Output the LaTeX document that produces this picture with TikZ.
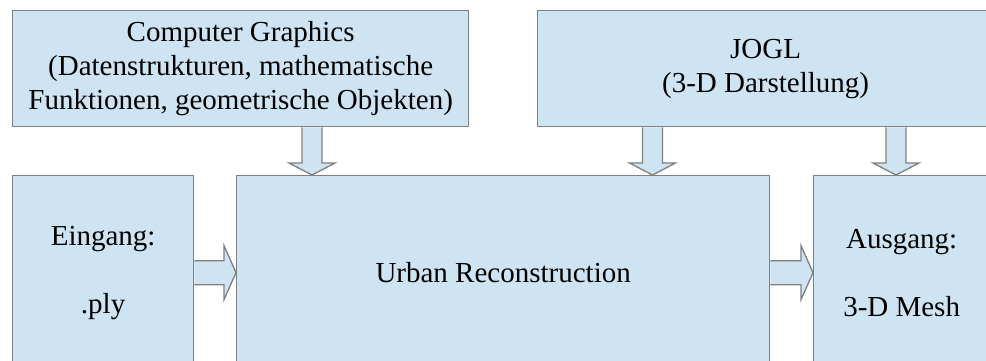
\documentclass[tikz,border=0pt]{standalone}
\usepackage{fontspec}
\setmainfont{Liberation Serif}
\usetikzlibrary{calc}
\definecolor{boxblue}{RGB}{207,228,243}
\definecolor{boxline}{RGB}{128,128,128}
\tikzset{
	box/.style={draw=boxline, fill=boxblue, line width=1.3pt, anchor=north west, align=center, inner sep=0pt},
	blockarrow/.style={draw=boxline, fill=boxblue, line width=1.3pt, line join=miter},
}
% hollow block arrows: #1 start, #2 tip
\newcommand{\blockdown}[2]{%
	\draw[blockarrow] ($(#1)+(-10,0)$) -- ($(#2)+(-10,-12)$) -- ($(#2)+(-23,-12)$) -- (#2)
	-- ($(#2)+(23,-12)$) -- ($(#2)+(10,-12)$) -- ($(#1)+(10,0)$);}
\newcommand{\blockright}[2]{%
	\draw[blockarrow] ($(#1)+(0,-12)$) -- ($(#2)+(-12,-12)$) -- ($(#2)+(-12,-27)$) -- (#2)
	-- ($(#2)+(-12,27)$) -- ($(#2)+(-12,12)$) -- ($(#1)+(0,12)$);}
\begin{document}
\begin{tikzpicture}[x=1pt, y=-1pt, font=\fontsize{29}{34}\selectfont]
	\useasboundingbox (0,0) rectangle (986,361);
	\clip (0,0) rectangle (986,361);
	\def\bh{194}
	\node[box, minimum width=456, minimum height=116] (cg) at (12,10)
		{Computer Graphics\\(Datenstrukturen, mathematische\\Funktionen, geometrische Objekten)};
	\node[box, minimum width=456, minimum height=116] (jogl) at (537,10)
		{JOGL\\(3-D Darstellung)};
	\node[box, minimum width=181, minimum height=\bh] (ein) at (12,175)
		{Eingang:\\[34pt].ply};
	\node[box, minimum width=533, minimum height=\bh] (urb) at (236,175)
		{Urban Reconstruction};
	\node[box, minimum width=176, minimum height=\bh] (aus) at (813,175)
		{Ausgang:\\[34pt]3-D Mesh};
	\path (cg.south west) ++(300,0) coordinate (cgout)
		(jogl.south west) ++(115.5,0) coordinate (joglout)
		(jogl.south west) ++(359,0) coordinate (joglaus);
	\blockdown{cgout}{cgout |- urb.north}
	\blockdown{joglout}{joglout |- urb.north}
	\blockdown{joglaus}{joglaus |- aus.north}
	\blockright{ein.east}{ein.east -| urb.west}
	\blockright{urb.east}{urb.east -| aus.west}
\end{tikzpicture}
\end{document}
